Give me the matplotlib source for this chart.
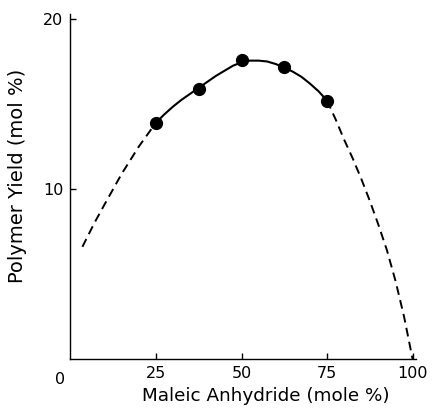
import numpy as np
import matplotlib
matplotlib.use("Agg")
import matplotlib.pyplot as plt

# measured points
x_data = [25, 37.5, 50, 62.5, 75]
y_data = [13.9, 15.9, 17.6, 17.2, 15.2]

# fitted curve (solid part)
x_fit = [25, 27.5, 30, 32.5, 35, 37.5, 40, 42.5, 45, 47.5, 50, 52.5, 55,
         57.5, 60, 62.5, 65, 67.5, 70, 72.5, 75]
y_fit = [13.9, 14.4, 14.85, 15.25, 15.6, 15.95, 16.3, 16.65, 16.95, 17.25,
         17.45, 17.55, 17.55, 17.5, 17.35, 17.15, 16.9, 16.6, 16.2, 15.75, 15.2]

# extrapolated (dashed) parts
x_left = [3.5, 7, 10, 12.5, 15, 17.5, 20, 22.5, 25]
y_left = [6.6, 8.0, 9.1, 10.0, 10.9, 11.7, 12.5, 13.2, 13.9]
x_right = [75, 77.5, 80, 82.5, 85, 87.5, 90, 92.5, 95, 97.5, 100]
y_right = [15.2, 14.1, 12.9, 11.8, 10.6, 9.3, 7.9, 6.4, 4.6, 2.5, 0.0]

xticks = [25, 50, 75, 100]
yticks = [10, 20]

fig = plt.figure(figsize=(4.32, 4.08), dpi=100)
ax = fig.add_axes([0.163, 0.120, 0.80, 0.846])

dash = (0, (4.5, 2.8))
ax.plot(x_fit, y_fit, color='black', lw=1.5, solid_capstyle='round')
ax.plot(x_left, y_left, color='black', lw=1.4, linestyle=dash)
ax.plot(x_right, y_right, color='black', lw=1.4, linestyle=dash)
ax.plot(x_data, y_data, 'o', color='black', ms=8.5, zorder=5)

ax.set_xlim(0, 101)
ax.set_ylim(0, 20.3)
ax.set_xticks(xticks)
ax.set_yticks(yticks)
ax.tick_params(direction='in', length=4.5, width=1, labelsize=11.5, pad=5)
ax.text(-3, -0.75, "0", ha='center', va='top', fontsize=11.5,
        transform=ax.transData)

for s in ['top', 'right']:
    ax.spines[s].set_visible(False)
for s in ['left', 'bottom']:
    ax.spines[s].set_linewidth(1.0)

fig.text(266 / 432, 1 - 396 / 408, "Maleic Anhydride (mole %)",
         ha='center', va='center', fontsize=13.2)
fig.text(18 / 432, 1 - 176 / 408, "Polymer Yield (mol %)",
         ha='center', va='center', rotation=90, fontsize=14)

fig.savefig("out.png", dpi=100)
